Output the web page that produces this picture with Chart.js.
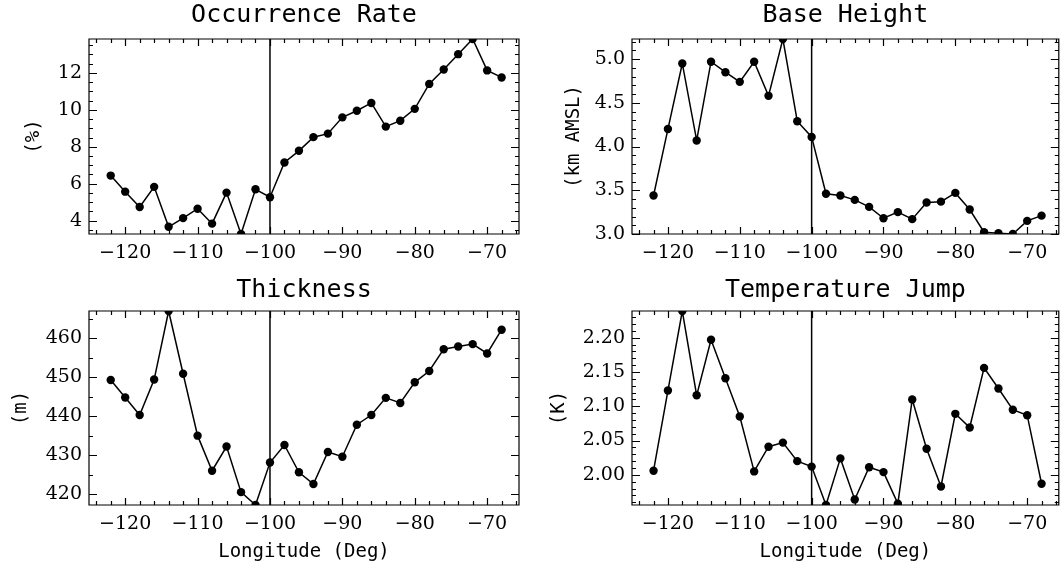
<!DOCTYPE html>
<html>
<head>
<meta charset="utf-8">
<script src="https://cdn.jsdelivr.net/npm/chart.js@4.4.1/dist/chart.umd.min.js"></script>
<style>
  body { margin: 0; background: #fff; width: 1063px; height: 566px; position: relative; overflow: hidden; }
  canvas { position: absolute; }
</style>
</head>
<body>
<canvas id="c1" width="531" height="270" style="left:0;top:0"></canvas>
<canvas id="c2" width="532" height="270" style="left:531px;top:0"></canvas>
<canvas id="c3" width="531" height="296" style="left:0;top:270px"></canvas>
<canvas id="c4" width="532" height="296" style="left:531px;top:270px"></canvas>
<script>
// longitude of each bin (deg)
var lon = [-122, -120, -118, -116, -114, -112, -110, -108, -106, -104, -102, -100, -98, -96,
           -94, -92, -90, -88, -86, -84, -82, -80, -78, -76, -74, -72, -70, -68];

var occurrence = [6.44, 5.57, 4.74, 5.83, 3.67, 4.14, 4.65, 3.84, 5.52, 3.28, 5.70, 5.27, 7.15, 7.78,
                  8.52, 8.71, 9.59, 9.95, 10.37, 9.09, 9.41, 10.05, 11.40, 12.18, 13.01, 13.83, 12.13, 11.75];
var baseHeight = [3.44, 4.20, 4.95, 4.07, 4.97, 4.85, 4.74, 4.97, 4.58, 5.23, 4.29, 4.11, 3.46, 3.44,
                  3.39, 3.31, 3.18, 3.25, 3.17, 3.36, 3.37, 3.47, 3.28, 3.02, 3.01, 3.00, 3.15, 3.21];
var thickness = [449.3, 444.8, 440.3, 449.4, 467.0, 450.9, 435.0, 426.0, 432.2, 420.5, 417.2, 428.1, 432.6, 425.6,
                 422.6, 430.8, 429.6, 437.8, 440.3, 444.7, 443.4, 448.7, 451.6, 457.2, 457.9, 458.5, 456.1, 462.2];
var tempJump = [2.006, 2.123, 2.239, 2.116, 2.197, 2.141, 2.085, 2.005, 2.041, 2.047, 2.020, 2.012, 1.956, 2.024,
                1.964, 2.011, 2.004, 1.958, 2.110, 2.038, 1.983, 2.089, 2.069, 2.156, 2.126, 2.095, 2.087, 1.987];

var lonTicks = [-120, -110, -100, -90, -80, -70];
var occTicks = [4, 6, 8, 10, 12];
var baseTicks = [3.0, 3.5, 4.0, 4.5, 5.0];
var thickTicks = [420, 430, 440, 450, 460];
var jumpTicks = [2.00, 2.05, 2.10, 2.15, 2.20];

var dividerLon = -100;

const TITLE_FONT = 'DejaVu Sans Mono';
const TICK_FONT = 'DejaVu Serif';

// box with inward ticks (IDL style) plus the divider line
const frame = {
  id: 'frame',
  afterDatasetsDraw(chart, args, opts) {
    const ctx = chart.ctx;
    const a = chart.chartArea;
    const x = chart.scales.x, y = chart.scales.y;
    ctx.save();
    ctx.strokeStyle = '#000';
    ctx.lineWidth = 1.2;
    ctx.beginPath();
    function seg(x1, y1, x2, y2) { ctx.moveTo(x1, y1); ctx.lineTo(x2, y2); }
    ctx.rect(a.left, a.top, a.right - a.left, a.bottom - a.top);
    for (let v = -124; v <= -66; v += 2) {
      const len = v % 10 === 0 ? 7 : 4;
      const px = Math.round(x.getPixelForValue(v)) + 0.5;
      seg(px, a.bottom, px, a.bottom - len);
      seg(px, a.top, px, a.top + len);
    }
    const step = opts.yMinor;
    for (let k = Math.ceil(y.min / step - 1e-6); k * step <= y.max + 1e-9; k++) {
      const v = k * step;
      const major = y.ticks.some(t => Math.abs(t.value - v) < step / 10);
      const len = major ? 8 : 4;
      const py = Math.round(y.getPixelForValue(v)) + 0.5;
      seg(a.left, py, a.left + len, py);
      seg(a.right, py, a.right - len, py);
    }
    ctx.stroke();
    const vx = x.getPixelForValue(dividerLon);
    ctx.lineWidth = 1.5;
    ctx.beginPath();
    seg(vx, a.top, vx, a.bottom);
    ctx.stroke();
    ctx.restore();
  }
};

function makePanel(id, title, values, yTicks, digits, yMinor, yTitle, yTitlePad, yWidth, rightPad, bottomRow) {
  new Chart(document.getElementById(id), {
    type: 'line',
    data: {
      datasets: [{
        data: lon.map((v, i) => ({ x: v, y: values[i] })),
        borderColor: '#000',
        borderWidth: 1.5,
        pointRadius: 4.2,
        pointBackgroundColor: '#000',
        pointBorderWidth: 0,
        tension: 0,
        clip: 0
      }]
    },
    options: {
      responsive: false,
      animation: false,
      layout: { padding: { left: 0, right: rightPad, top: 0, bottom: 0 } },
      plugins: {
        legend: { display: false },
        tooltip: { enabled: false },
        title: {
          display: true,
          text: title,
          color: '#000',
          fullSize: false,
          font: { family: TITLE_FONT, size: 25, weight: 'normal' },
          padding: bottomRow ? { top: 5, bottom: 6 } : { top: 0, bottom: 9 }
        },
        frame: { yMinor: yMinor }
      },
      scales: {
        x: {
          type: 'linear',
          min: -125,
          max: -65.6,
          afterBuildTicks: s => { s.ticks = lonTicks.map(v => ({ value: v })); },
          afterFit: s => { s.height = bottomRow ? 61 : 36; },
          grid: { display: false, drawTicks: false },
          border: { display: false },
          ticks: {
            color: '#000',
            padding: 8,
            maxRotation: 0,
            autoSkip: false,
            font: { family: TICK_FONT, size: 19 },
            callback: v => String(v).replace('-', '\u2212')
          },
          title: {
            display: bottomRow,
            text: 'Longitude (Deg)',
            color: '#000',
            font: { family: TITLE_FONT, size: 19 },
            padding: { top: 0, bottom: 3 }
          }
        },
        y: {
          min: Math.min(...values),
          max: Math.max(...values),
          afterBuildTicks: s => { s.ticks = yTicks.map(v => ({ value: v })); },
          afterFit: s => { s.width = yWidth; },
          grid: { display: false, drawTicks: false },
          border: { display: false },
          ticks: {
            color: '#000',
            padding: 7,
            font: { family: TICK_FONT, size: 19 },
            callback: v => Number(v).toFixed(digits)
          },
          title: {
            display: true,
            text: yTitle,
            color: '#000',
            font: { family: TITLE_FONT, size: 19 },
            padding: { top: yTitlePad, bottom: 0 }
          }
        }
      }
    },
    plugins: [frame]
  });
}

makePanel('c1', 'Occurrence Rate', occurrence, occTicks, 0, 0.5, '(%)', 23, 89, 12, false);
makePanel('c2', 'Base Height', baseHeight, baseTicks, 1, 0.1, '(km AMSL)', 32, 101, 1, false);
makePanel('c3', 'Thickness', thickness, thickTicks, 0, 5, '(m)', 10, 89, 12, true);
makePanel('c4', 'Temperature Jump', tempJump, jumpTicks, 2, 0.01, '(K)', 17, 101, 1, true);
</script>
</body>
</html>
